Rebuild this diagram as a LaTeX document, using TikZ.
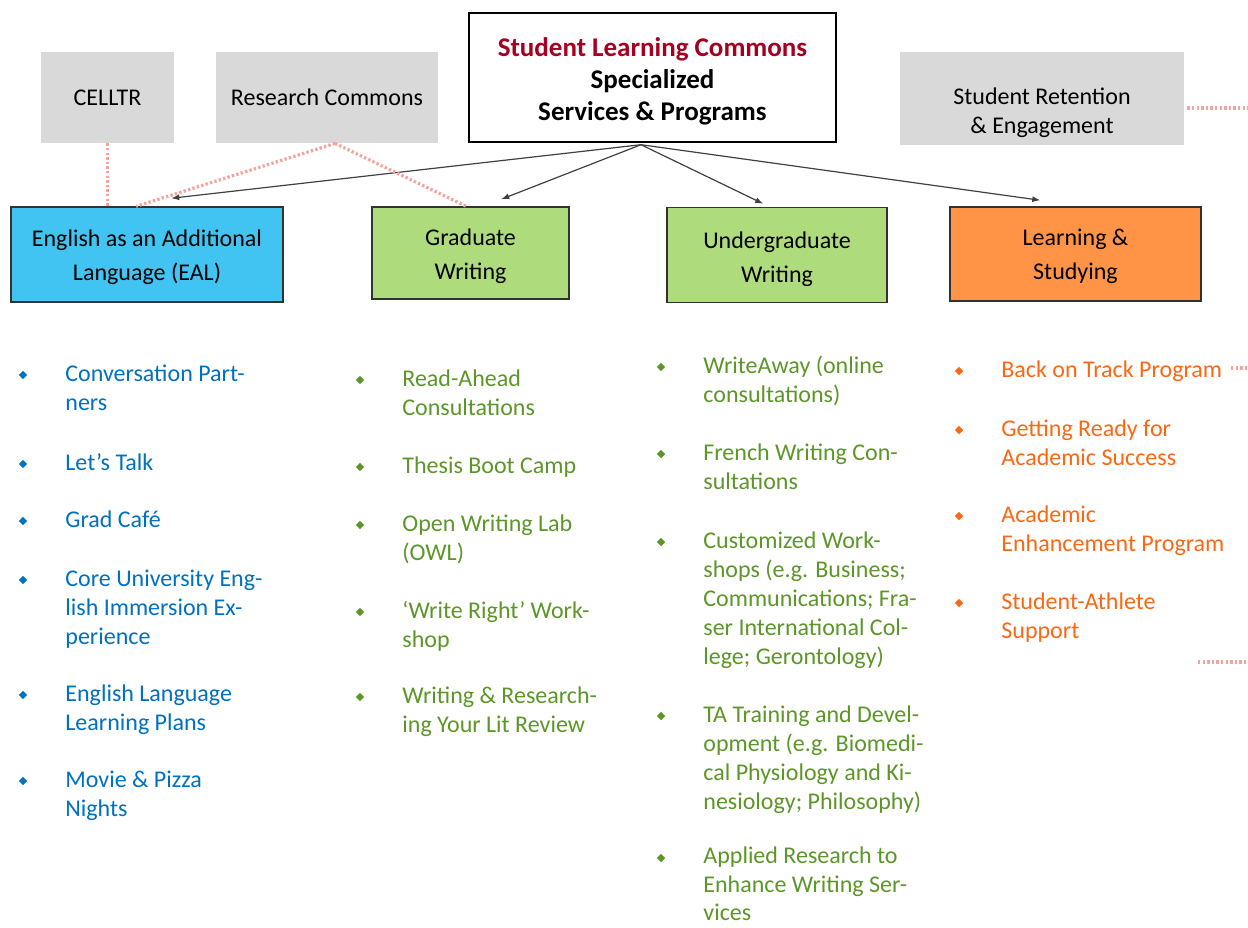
\documentclass[tikz,border=0pt]{standalone}
\usepackage{fontspec}
\setmainfont{Carlito}
\usetikzlibrary{shapes.geometric,arrows.meta,calc}
\definecolor{grayfill}{RGB}{217,217,217}
\definecolor{bluefill}{RGB}{65,196,242}
\definecolor{greenfill}{RGB}{174,220,124}
\definecolor{orangefill}{RGB}{255,148,71}
\definecolor{titlered}{RGB}{165,0,33}
\definecolor{bluetext}{RGB}{0,112,192}
\definecolor{greentext}{RGB}{92,150,40}
\definecolor{orangetext}{RGB}{250,104,20}
\definecolor{dotpink}{RGB}{240,165,158}
\definecolor{arrowgray}{RGB}{64,64,64}
\definecolor{boxline}{RGB}{50,50,50}
\begin{document}
\begin{tikzpicture}[x=0.5pt,y=-0.5pt,
  colbox/.style={draw=boxline, line width=0.75pt, inner sep=0},
  boxtext/.style={inner sep=0, align=center, font=\fontsize{12}{17}\selectfont},
  graybox/.style={fill=grayfill, draw=none, inner sep=0, align=center, font=\fontsize{12}{14.5}\selectfont},
  itemtext/.style={anchor=north west, inner sep=0, align=left, font=\fontsize{12}{14.5}\selectfont},
  bul/.style={diamond, fill, draw=none, inner sep=0, minimum size=4.4pt},
  arr/.style={draw=arrowgray, line width=0.6pt, -{Latex[length=4pt,width=3pt]}},
  dots/.style={draw=dotpink, line width=1.6pt, dash pattern=on 1.2pt off 1.1pt}
]
\useasboundingbox (0,0) rectangle (1248,927);

% top box
\node[draw=black, line width=1.2pt, fill=white, minimum width=183.5pt, minimum height=64.5pt, inner sep=0] (top) at (652.5,77.5) {};
\node[inner sep=0, align=center, font=\fontsize{13.5}{16}\selectfont\bfseries] (topt) at (652.5,81)
  {\textcolor{titlered}{Student Learning Commons}\\Specialized\\Services \& Programs};

% gray boxes
\node[graybox, minimum width=66.5pt, minimum height=45.5pt] (celltr) at (107.5,97.5) {CELLTR};
\node[graybox, minimum width=111pt, minimum height=45.5pt] (rc) at (327,97.5) {Research Commons};
\node[graybox, minimum width=142pt, minimum height=46.5pt] (sr) at (1042,98.5) {};
\node[inner sep=0, align=center, font=\fontsize{12}{14.5}\selectfont] (srt) at (1042,113) {Student Retention\\\& Engagement};

% coloured boxes
\node[colbox, fill=bluefill, minimum width=136pt, minimum height=47.5pt] (eal) at (147,254.5) {};
\node[boxtext] (ealt) at (147,257) {English as an Additional\\Language (EAL)};
\node[colbox, fill=greenfill, minimum width=98.5pt, minimum height=46pt] (grad) at (470.5,253) {};
\node[boxtext] (gradt) at (470.5,256.5) {Graduate\\Writing};
\node[colbox, fill=greenfill, minimum width=110pt, minimum height=47.5pt] (ug) at (777,255) {};
\node[boxtext] (ugt) at (777,259) {Undergraduate\\Writing};
\node[colbox, fill=orangefill, minimum width=125.5pt, minimum height=47pt] (ls) at (1075.5,254) {};
\node[boxtext] (lst) at (1075.5,256.5) {Learning \&\\Studying};

% arrows
\coordinate (hub) at ($(top.south)+(-11.5,1.5)$);
\coordinate (ealin) at ($(eal.north west)+(161,-8)$);
\coordinate (gradin) at ($(grad.north west)+(130,-7)$);
\coordinate (ugin) at ($(ug.north west)+(97,-3)$);
\coordinate (lsin) at ($(ls.north west)+(91,-6)$);
\draw[arr] (hub) -- (ealin);
\draw[arr] (hub) -- (gradin);
\draw[arr] (hub) -- (ugin);
\draw[arr] (hub) -- (lsin);

% dotted links
\draw[dots] (celltr.south) -- (celltr.south |- eal.north);
\coordinate (rcb) at ($(rc.south)+(8,0)$);
\coordinate (ealrc) at ($(eal.north west)+(126,0)$);
\coordinate (gradrc) at ($(grad.north west)+(95,0)$);
\draw[dots] (rcb) -- (ealrc);
\draw[dots] (rcb) -- (gradrc);
\coordinate (srr) at ($(sr.east)+(3,9.5)$);
\coordinate (srend) at (1248,108);
\draw[dots] (srr) -- (srend);
\coordinate (bt1) at (1231,368);
\coordinate (bt2) at (1248,368);
\draw[dots] (bt1) -- (bt2);
\coordinate (bb1) at (1198,662);
\coordinate (bb2) at (1248,662);
\draw[dots] (bb1) -- (bb2);

% EAL list
\node[bul, fill=bluetext] (eb1) at (23,375) {};
\node[itemtext, text=bluetext] (e1) at (65,360.7) {\strut Conversation Part-\\ners};
\node[bul, fill=bluetext] (eb2) at (23,464) {};
\node[itemtext, text=bluetext] (e2) at (65,449.7) {\strut Let’s Talk};
\node[bul, fill=bluetext] (eb3) at (23,521) {};
\node[itemtext, text=bluetext] (e3) at (65,506.7) {\strut Grad Café};
\node[bul, fill=bluetext] (eb4) at (23,580) {};
\node[itemtext, text=bluetext] (e4) at (65,565.7) {\strut Core University Eng-\\lish Immersion Ex-\\perience};
\node[bul, fill=bluetext] (eb5) at (23,695) {};
\node[itemtext, text=bluetext] (e5) at (65,680.7) {\strut English Language\\Learning Plans};
\node[bul, fill=bluetext] (eb6) at (23,781) {};
\node[itemtext, text=bluetext] (e6) at (65,766.7) {\strut Movie \& Pizza\\Nights};

% Graduate list
\node[bul, fill=greentext] (gb1) at (360,380) {};
\node[itemtext, text=greentext] (g1) at (402,365.7) {\strut Read-Ahead\\Consultations};
\node[bul, fill=greentext] (gb2) at (360,467) {};
\node[itemtext, text=greentext] (g2) at (402,452.7) {\strut Thesis Boot Camp};
\node[bul, fill=greentext] (gb3) at (360,525) {};
\node[itemtext, text=greentext] (g3) at (402,510.7) {\strut Open Writing Lab\\(OWL)};
\node[bul, fill=greentext] (gb4) at (360,612) {};
\node[itemtext, text=greentext] (g4) at (402,597.7) {\strut ‘Write Right’ Work-\\shop};
\node[bul, fill=greentext] (gb5) at (360,697) {};
\node[itemtext, text=greentext] (g5) at (402,682.7) {\strut Writing \& Research-\\ing Your Lit Review};

% Undergraduate list
\node[bul, fill=greentext] (ub1) at (661,367) {};
\node[itemtext, text=greentext] (u1) at (703,352.7) {\strut WriteAway (online\\consultations)};
\node[bul, fill=greentext] (ub2) at (661,454) {};
\node[itemtext, text=greentext] (u2) at (703,439.7) {\strut French Writing Con-\\sultations};
\node[bul, fill=greentext] (ub3) at (661,542) {};
\node[itemtext, text=greentext] (u3) at (703,527.7) {\strut Customized Work-\\shops (e.g. Business;\\Communications; Fra-\\ser International Col-\\lege; Gerontology)};
\node[bul, fill=greentext] (ub4) at (661,716) {};
\node[itemtext, text=greentext] (u4) at (703,701.7) {\strut TA Training and Devel-\\opment (e.g. Biomedi-\\cal Physiology and Ki-\\nesiology; Philosophy)};
\node[bul, fill=greentext] (ub5) at (661,858) {};
\node[itemtext, text=greentext, font=\fontsize{12}{14.2}\selectfont] (u5) at (703,843.7) {\strut Applied Research to\\Enhance Writing Ser-\\vices};

% Learning list
\node[bul, fill=orangetext] (lb1) at (959,371) {};
\node[itemtext, text=orangetext] (l1) at (1001,356.7) {\strut Back on Track Program};
\node[bul, fill=orangetext] (lb2) at (959,430) {};
\node[itemtext, text=orangetext] (l2) at (1001,415.7) {\strut Getting Ready for\\Academic Success};
\node[bul, fill=orangetext] (lb3) at (959,516) {};
\node[itemtext, text=orangetext] (l3) at (1001,501.7) {\strut Academic\\Enhancement Program};
\node[bul, fill=orangetext] (lb4) at (959,603) {};
\node[itemtext, text=orangetext] (l4) at (1001,588.7) {\strut Student-Athlete\\Support};
\end{tikzpicture}
\end{document}
